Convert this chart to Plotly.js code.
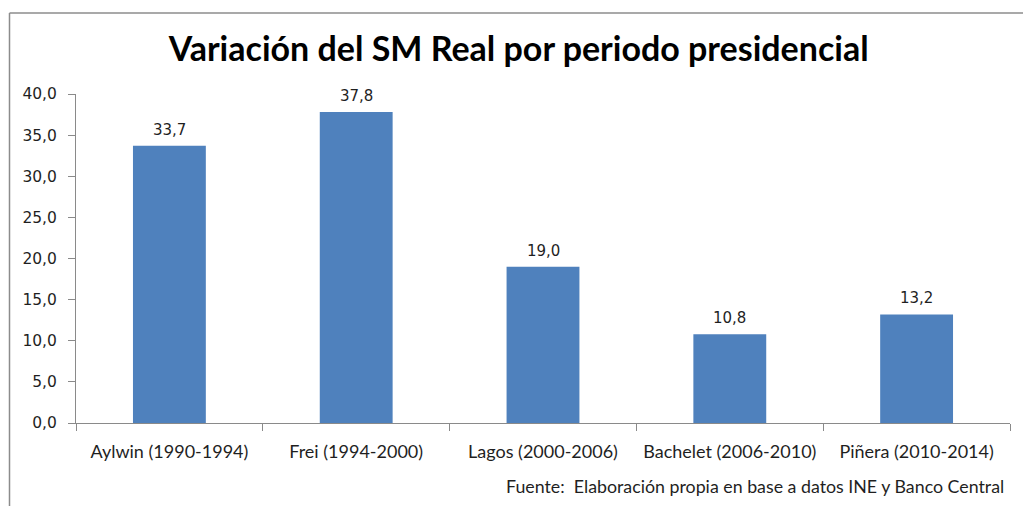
<!DOCTYPE html>
<html>
<head>
<meta charset="utf-8">
<script src="https://cdn.plot.ly/plotly-3.0.1.min.js"></script>
<style>
  html, body { margin: 0; padding: 0; background: #ffffff; }
  #chart { width: 1023px; height: 506px; }
</style>
</head>
<body>
<div id="chart"></div>
<script>
const categories = [
  "Aylwin (1990-1994)",
  "Frei (1994-2000)",
  "Lagos (2000-2006)",
  "Bachelet (2006-2010)",
  "Piñera (2010-2014)"
];
const values = [33.7, 37.8, 19.0, 10.8, 13.2];
const yTickValues = [0, 5, 10, 15, 20, 25, 30, 35, 40];

const titleText = "Variación del SM Real por periodo presidencial";
const sourceText = "Fuente:  Elaboración propia en base a datos INE y Banco Central";

const axisGray = "#8a8a8a";
const textDark = "#1f1f1f";

const trace = {
  type: "bar",
  x: categories,
  y: values,
  marker: { color: "#4F81BD", line: { width: 0 } },
  cliponaxis: false,
  hoverinfo: "skip"
};

// value labels placed through the data scales
const valueLabels = categories.map((c, i) => ({
  x: c,
  y: values[i],
  xref: "x",
  yref: "y",
  text: values[i].toFixed(1).replace(".", ","),
  showarrow: false,
  xanchor: "center",
  yanchor: "bottom",
  yshift: 5,
  font: { family: "DejaVu Sans, Verdana, sans-serif", size: 15, color: textDark }
}));

const layout = {
  width: 1023,
  height: 506,
  margin: { l: 76, r: 13, t: 94, b: 83 },
  paper_bgcolor: "#ffffff",
  plot_bgcolor: "#ffffff",
  separators: ",.",
  showlegend: false,
  bargap: 0.61,
  title: {
    text: "<b>" + titleText + "</b>",
    font: { family: "Lato, Liberation Sans, sans-serif", size: 34, color: "#000000" },
    x: 0.507,
    xref: "container",
    xanchor: "center",
    y: 0.903,
    yref: "container",
    yanchor: "middle"
  },
  xaxis: {
    type: "category",
    showline: true,
    linecolor: axisGray,
    linewidth: 1,
    ticks: "outside",
    tickson: "boundaries",
    ticklen: 7,
    tickcolor: axisGray,
    tickwidth: 1,
    showgrid: false,
    zeroline: false,
    tickfont: { family: "Lato, Liberation Sans, sans-serif", size: 18, color: textDark },
    ticklabelstandoff: 12
  },
  yaxis: {
    range: [0, 40],
    tickvals: yTickValues,
    tickformat: ".1f",
    showline: true,
    linecolor: axisGray,
    linewidth: 1,
    ticks: "outside",
    ticklen: 7,
    tickcolor: axisGray,
    tickwidth: 1,
    showgrid: false,
    zeroline: false,
    tickfont: { family: "DejaVu Sans, Verdana, sans-serif", size: 15.5, color: textDark },
    ticklabelstandoff: 8
  },
  shapes: [
    { type: "line", xref: "paper", yref: "paper",
      x0: (9.5 - 76) / 934, x1: (9.5 - 76) / 934, y0: 1.2462, y1: -0.26,
      line: { color: "#8c8c8c", width: 1.5 } },
    { type: "line", xref: "paper", yref: "paper",
      x0: (9.5 - 76) / 934, x1: 1.02, y0: 1.2462, y1: 1.2462,
      line: { color: "#8c8c8c", width: 1.5 } }
  ],
  annotations: valueLabels.concat([
    {
      text: sourceText,
      xref: "paper", yref: "paper",
      x: (504 - 76) / 934, y: (423 - 486) / 329,
      xanchor: "left", yanchor: "middle",
      showarrow: false,
      font: { family: "Lato, Liberation Sans, sans-serif", size: 17.8, color: textDark }
    }
  ])
};

Plotly.newPlot("chart", [trace], layout, { displayModeBar: false, staticPlot: true });
</script>
</body>
</html>
